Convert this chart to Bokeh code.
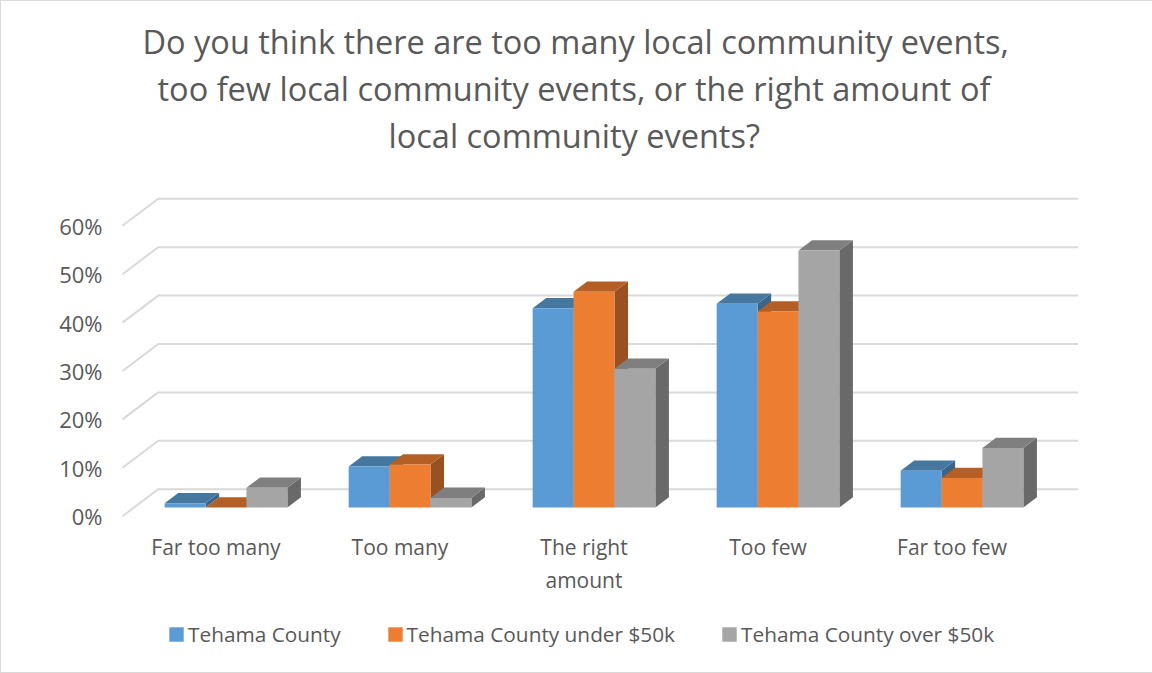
from bokeh.plotting import figure
from bokeh.embed import file_html
from bokeh.resources import INLINE
from bokeh.models import Range1d, FixedTicker, PrintfTickFormatter, Legend, LegendItem, LinearAxis, Title

categories = ["Far too many", "Too many", "The right\namount", "Too few", "Far too few"]
series = ["Tehama County", "Tehama County under $50k", "Tehama County over $50k"]
tehama = [0.9, 8.5, 41.2, 42.1, 7.6]
under_50k = [0.0, 8.9, 44.6, 40.5, 6.1]
over_50k = [4.1, 2.0, 28.7, 53.1, 12.3]
y_ticks = [0, 10, 20, 30, 40, 50, 60]
front_colors = ["#5B9BD5", "#ED7D31", "#A5A5A5"]
top_colors = ["#46779F", "#B35F25", "#7F7F7F"]
side_colors = ["#3A6489", "#995121", "#696969"]
title_lines = ["Do you think there are too many local community events,",
               "too few local community events, or the right amount of",
               "local community events?"]
title_offsets = [31, 46, 277]

W, H = 1152, 673
L, R, T, B = 110, 1145, 156, 665
X0, PX = 213.0, 184.0      # pixel of category 0 and pixels per category
Y0, PY = 514.7, 4.84       # pixel of 0% on the front plane and pixels per percent
DX = 35.7 / PX             # full depth of the floor in data units
DY = 27.0 / PY
BAR_W = 40.9 / PX
D0, D1 = 0.32, 0.70        # depth span occupied by bars
GROUP_SHIFT = 11.5 / PX - DX * 0.32
LABEL_SHIFT = 1.5 / PX

TEXT = "#595959"
GRID = "#D9D9D9"

p = figure(width=W, height=H, output_backend="svg", toolbar_location=None,
           x_range=Range1d((L - X0) / PX, (R - X0) / PX),
           y_range=Range1d((Y0 - B) / PY, (Y0 - T) / PY),
           x_axis_type=None, y_axis_type=None,
           min_border_left=L, min_border_right=W - R, min_border_top=T, min_border_bottom=H - B)
p.extra_x_ranges = {"labels": Range1d((L - X0) / PX - LABEL_SHIFT, (R - X0) / PX - LABEL_SHIFT)}
p.outline_line_color = None
p.grid.visible = False
p.styles = {"border-top": "1px solid #D9D9D9", "border-left": "1px solid #D9D9D9",
            "border-bottom": "1px solid #D9D9D9", "box-sizing": "border-box"}

# back wall gridlines with their diagonals to the front plane
n = len(categories)
xs_grid, ys_grid = [], []
for t in y_ticks:
    xs_grid.append([-0.5, -0.5 + DX, n - 0.5 + DX])
    ys_grid.append([t, t + DY, t + DY])
p.multi_line(xs_grid, ys_grid, line_color=GRID, line_width=2)

# bars: series in order so that nearer-right faces overlap earlier ones
renderers = []
for s, vals in enumerate([tehama, under_50k, over_50k]):
    ls, rs, tops = [], [], []
    top_x, top_y, side_x, side_y = [], [], [], []
    for i, v in enumerate(vals):
        left = i - 1.5 * BAR_W + s * BAR_W + DX * D0 + GROUP_SHIFT
        right = left + BAR_W
        base = DY * D0
        top = v + base
        d = D1 - D0
        ls.append(left); rs.append(right); tops.append(top)
        top_x.append([left, left + DX * d, right + DX * d, right])
        top_y.append([top, top + DY * d, top + DY * d, top])
        side_x.append([right, right + DX * d, right + DX * d, right])
        side_y.append([base, base + DY * d, top + DY * d, top])
    p.patches(side_x, side_y, fill_color=side_colors[s], line_color=None)
    p.patches(top_x, top_y, fill_color=top_colors[s], line_color=None)
    r = p.quad(left=ls, right=rs, top=tops, bottom=[DY * D0] * n, fill_color=front_colors[s], line_color=None)
    renderers.append(r)

# axes
yax = LinearAxis(ticker=FixedTicker(ticks=y_ticks), formatter=PrintfTickFormatter(format="%d%%"))
yax.axis_line_color = None
yax.major_tick_line_color = None
yax.minor_tick_line_color = None
yax.major_label_standoff = 3
yax.major_label_text_font = "Open Sans"
yax.major_label_text_font_size = "22px"
yax.major_label_text_color = TEXT
p.add_layout(yax, "left")

xax = LinearAxis(ticker=FixedTicker(ticks=list(range(n))), x_range_name="labels",
                 major_label_overrides={i: c for i, c in enumerate(categories)})
xax.axis_line_color = None
xax.major_tick_line_color = None
xax.minor_tick_line_color = None
xax.major_label_standoff = -140
xax.major_label_text_font = "Open Sans"
xax.major_label_text_font_size = "21px"
xax.major_label_text_color = TEXT
p.add_layout(xax, "below")

# legend
legend = Legend(items=[LegendItem(label=series[i], renderers=[renderers[i]]) for i in range(3)],
                orientation="horizontal", location=(56, 18),
                glyph_width=18, glyph_height=18, label_standoff=3, spacing=45,
                padding=0, margin=0, border_line_color=None, background_fill_alpha=0,
                label_text_font="Open Sans", label_text_font_size="20.8px", label_text_color=TEXT)
p.add_layout(legend, "center")

# title: one line per Title, added bottom line first
for k in (2, 1, 0):
    t = Title(text=title_lines[k], align="left", offset=title_offsets[k], standoff=0,
              text_font="Open Sans", text_font_size="32.5px", text_font_style="normal", text_color=TEXT)
    p.add_layout(t, "above")

open("out.html", "w").write(file_html(p, INLINE))
